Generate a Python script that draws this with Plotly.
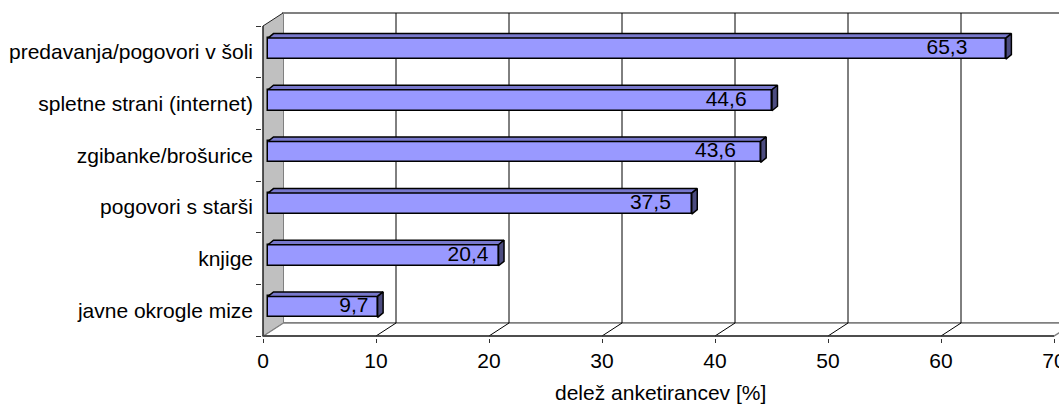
import plotly.graph_objects as go

# Survey data: sources of information (share of respondents, %)
categories = [
    "predavanja/pogovori v šoli",
    "spletne strani (internet)",
    "zgibanke/brošurice",
    "pogovori s starši",
    "knjige",
    "javne okrogle mize",
]
shares = [65.3, 44.6, 43.6, 37.5, 20.4, 9.7]
value_labels = ["65,3", "44,6", "43,6", "37,5", "20,4", "9,7"]
x_ticks = [0, 10, 20, 30, 40, 50, 60, 70]
x_title = "delež anketirancev [%]"

# ---- pseudo-3D geometry (axis units) ----
PX_X = 11.3           # pixels per percent
PX_Y = 51.67          # pixels per category slot
DX = 20 / PX_X        # depth offset of back wall, x
DY = -13 / PX_Y       # depth offset of back wall, y (reversed axis: negative = up)
F1 = 0.25             # depth fraction of bar front faces
BDX = 5.5 / PX_X      # bar depth, x
BDY = -4.5 / PX_Y     # bar depth, y
BAR_W = 21 / PX_Y     # bar thickness
XMAX = x_ticks[-1]
Y0, Y1 = -0.5, len(categories) - 0.5

FONT = "Liberation Sans, Arial, sans-serif"
FS = 21

fig = go.Figure()

# ---- walls and floor ----
shapes = []
# back wall
shapes.append(dict(type="rect", xref="x", yref="y", layer="below",
                   x0=DX, x1=XMAX + DX, y0=Y0 + DY, y1=Y1 + DY,
                   fillcolor="white", line=dict(color="#808080", width=2)))
# floor
shapes.append(dict(type="path", xref="x", yref="y", layer="below",
                   path=f"M 0,{Y1} L {XMAX},{Y1} L {XMAX + DX},{Y1 + DY} L {DX},{Y1 + DY} Z",
                   fillcolor="white", line=dict(color="#808080", width=1.5)))
# left wall
shapes.append(dict(type="path", xref="x", yref="y", layer="below",
                   path=f"M 0,{Y0} L {DX},{Y0 + DY} L {DX},{Y1 + DY} L 0,{Y1} Z",
                   fillcolor="#C0C0C0", line=dict(width=0)))
# gridlines on the back wall and their floor diagonals
for t in x_ticks[1:-1]:
    shapes.append(dict(type="line", xref="x", yref="y", layer="below",
                       x0=t + DX, x1=t + DX, y0=Y0 + DY, y1=Y1 + DY,
                       line=dict(color="black", width=1)))
    shapes.append(dict(type="line", xref="x", yref="y", layer="below",
                       x0=t, x1=t + DX, y0=Y1, y1=Y1 + DY,
                       line=dict(color="black", width=1)))
# left wall front and top edges, floor front edge
shapes.append(dict(type="line", xref="x", yref="y", x0=0, x1=0, y0=Y0, y1=Y1,
                   line=dict(color="#222222", width=1.5)))
shapes.append(dict(type="line", xref="x", yref="y", x0=0, x1=DX, y0=Y0, y1=Y0 + DY,
                   line=dict(color="#222222", width=1)))
shapes.append(dict(type="line", xref="x", yref="y", x0=0, x1=DX, y0=Y1, y1=Y1 + DY,
                   line=dict(color="#808080", width=1)))
shapes.append(dict(type="line", xref="x", yref="y", x0=0, x1=XMAX, y0=Y1, y1=Y1,
                   line=dict(color="#333333", width=1.5)))

# ---- bars ----
base = F1 * DX
centers = [i + F1 * DY for i in range(len(categories))]

top_x, top_y, side_x, side_y = [], [], [], []
for v, yc in zip(shares, centers):
    yt, yb = yc - BAR_W / 2, yc + BAR_W / 2
    e = base + v
    top_x += [base, e, e + BDX, base + BDX, base, None]
    top_y += [yt, yt, yt + BDY, yt + BDY, yt, None]
    side_x += [e, e + BDX, e + BDX, e, e, None]
    side_y += [yt, yt + BDY, yb + BDY, yb, yt, None]

fig.add_trace(go.Scatter(x=top_x, y=top_y, mode="lines", fill="toself",
                         fillcolor="#7878CC", line=dict(color="black", width=1.5),
                         hoverinfo="skip", showlegend=False))
fig.add_trace(go.Scatter(x=side_x, y=side_y, mode="lines", fill="toself",
                         fillcolor="#4C4C80", line=dict(color="black", width=1.5),
                         hoverinfo="skip", showlegend=False))
fig.add_trace(go.Bar(x=shares, y=centers, base=base, orientation="h", width=BAR_W,
                     marker=dict(color="#9999FF", line=dict(color="black", width=1.5)),
                     hoverinfo="skip", showlegend=False))

# value labels inside the bars, near their ends
fig.add_trace(go.Scatter(
    x=[base + 0.944 * v - 1.56 for v in shares], y=centers,
    mode="text", text=value_labels, textposition="middle center",
    textfont=dict(family=FONT, size=FS, color="black"),
    hoverinfo="skip", showlegend=False))

fig.update_layout(
    width=1059, height=405, autosize=False,
    margin=dict(l=262, r=0, t=12, b=67),
    paper_bgcolor="white", plot_bgcolor="white",
    font=dict(family=FONT, size=FS, color="black"),
    shapes=shapes, bargap=0,
    xaxis=dict(range=[-1 / PX_X, (1059 - 263) / PX_X], tickvals=x_ticks,
               ticks="outside", ticklen=4, tickcolor="#333333",
               showgrid=False, zeroline=False, showline=False, automargin=False,
               ticklabelstandoff=0, ticklabeloverflow="allow",
               tickfont=dict(size=FS)),
    yaxis=dict(range=[Y0 + (338 - 26) / PX_Y, Y0 + (12 - 26) / PX_Y],
               tickvals=list(range(len(categories))), ticktext=categories,
               ticks="", showgrid=False, zeroline=False, showline=False, automargin=False,
               ticklabelstandoff=8, tickfont=dict(size=FS),
               minor=dict(tickvals=[i - 0.5 for i in range(len(categories) + 1)],
                          ticks="outside", ticklen=5, tickcolor="#333333",
                          showgrid=False)),
    annotations=[dict(text=x_title, xref="paper", yref="paper", x=0.5, y=(338 - 392) / 326,
                      xanchor="center", yanchor="middle", showarrow=False,
                      font=dict(family=FONT, size=FS))],
)

fig.write_html("out.html")
